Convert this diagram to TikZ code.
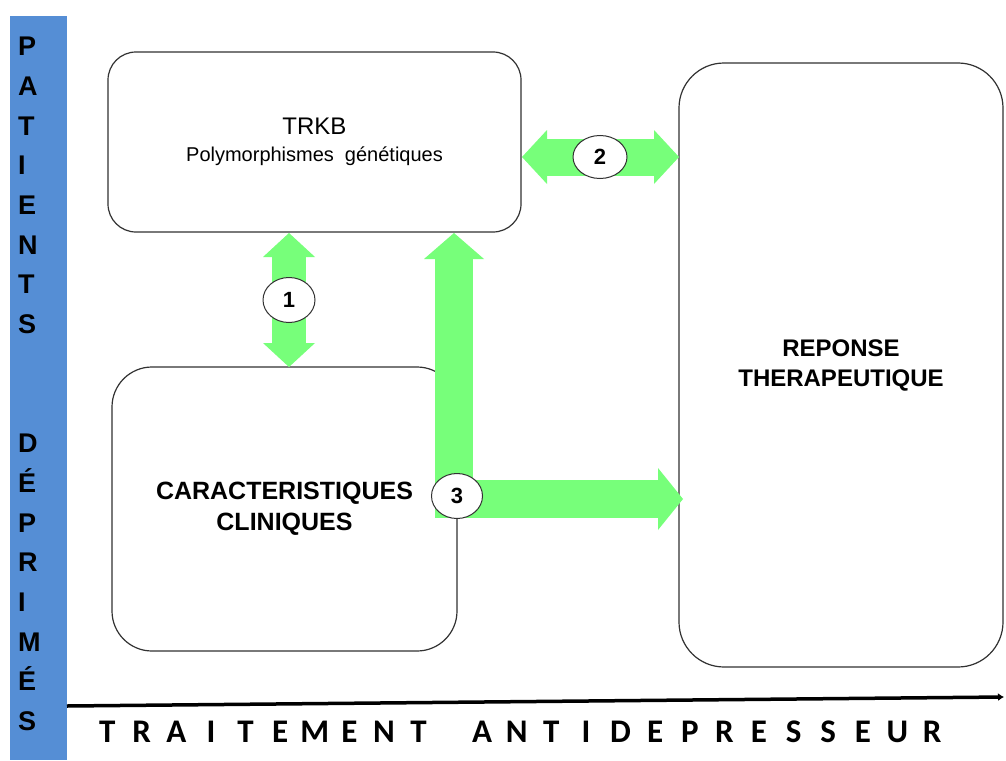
\documentclass[tikz,border=0pt]{standalone}
\usepackage{fontspec}
\setmainfont{Liberation Sans}
\newfontfamily\calfont{Carlito}
\usetikzlibrary{arrows.meta,shapes.geometric,calc}
\definecolor{barblue}{RGB}{85,142,213}
\definecolor{agreen}{RGB}{119,255,122}
\definecolor{edgegray}{RGB}{50,50,50}
\makeatletter
\newcommand\spreadletters[2]{\@tfor\sp@ch:=#2\do{\makebox[#1]{\sp@ch}}}
\makeatother
\begin{document}
\begin{tikzpicture}[x=1pt,y=-1pt,
  box/.style={draw=edgegray, line width=1.2pt, rectangle, inner sep=0pt, align=center},
  num/.style={ellipse, draw=edgegray, line width=1pt, fill=white, inner sep=0pt,
    font=\fontsize{22}{24}\selectfont\bfseries},
  garrow/.style={draw=agreen, line width=#1},
  vlabel/.style={anchor=north west, inner sep=0pt, align=left,
    font=\fontsize{27}{39.7}\selectfont\bfseries}
]
\useasboundingbox (0,0) rectangle (1006,760);
\fill[white] (0,0) rectangle (1006,760);
\fill[barblue] (10,16) rectangle (67,760);

\node[vlabel] (patients) at (18,37) {P\\A\\T\\I\\E\\N\\T\\S};
\node[vlabel] (deprimes) at (18,434) {D\\É\\P\\R\\I\\M\\É\\S};

\node[box, rounded corners=28pt, minimum width=413pt, minimum height=180pt,
  font=\fontsize{20}{26.6}\selectfont] (trkb) at (314.5,142)
  {{\fontsize{24}{26.6}\selectfont TRKB}\\Polymorphismes\hspace{11pt}génétiques};
\node[box, rounded corners=40pt, minimum width=345pt, minimum height=284pt,
  font=\fontsize{25}{31}\selectfont\bfseries] (clin) at (284.5,509)
  {CARACTERISTIQUES\\CLINIQUES};
\node[box, rounded corners=45pt, minimum width=324pt, minimum height=604pt,
  font=\fontsize{24}{30}\selectfont\bfseries] (rep) at (841,365)
  {REPONSE\\THERAPEUTIQUE};

\coordinate (a1s) at (289,233);
\coordinate (a1e) at (289,367);
\coordinate (a2s) at (522,157);
\coordinate (a2e) at (679,157);
\coordinate (a3s) at (454,233);
\coordinate (a3c) at (454,499);
\coordinate (a3e) at (683,499);

\draw[garrow=34pt, {Triangle[width=52pt,length=24pt,line width=0pt]}-{Triangle[width=52pt,length=24pt,line width=0pt]}] (a1s) -- (a1e);
\draw[garrow=37pt, {Triangle[width=54pt,length=25pt,line width=0pt]}-{Triangle[width=54pt,length=25pt,line width=0pt]}] (a2s) -- (a2e);
\draw[garrow=38pt, line join=miter, {Triangle[width=60pt,length=26pt,line width=0pt]}-{Triangle[width=62pt,length=25pt,line width=0pt]}] (a3s) -- (a3c) -- (a3e);

\node[num, minimum width=52pt, minimum height=45pt] (n1) at (289,300) {1};
\node[num, minimum width=54pt, minimum height=43pt] (n2) at (600,157) {2};
\node[num, minimum width=51pt, minimum height=45pt] (n3) at (457,496) {3};

\coordinate (axs) at (67,706);
\coordinate (axe) at (1004,697);
\draw[line width=3.5pt, -{Latex[length=6pt,width=8pt]}] (axs) -- (axe);

\node[anchor=base west, inner sep=0pt, font=\calfont\fontsize{33}{35}\selectfont\bfseries] (treat) at (89.7,742)
  {\spreadletters{34.6pt}{TRAITEMENT}\hspace{29pt}\spreadletters{34.6pt}{ANTIDEPRESSEUR}};
\end{tikzpicture}
\end{document}
